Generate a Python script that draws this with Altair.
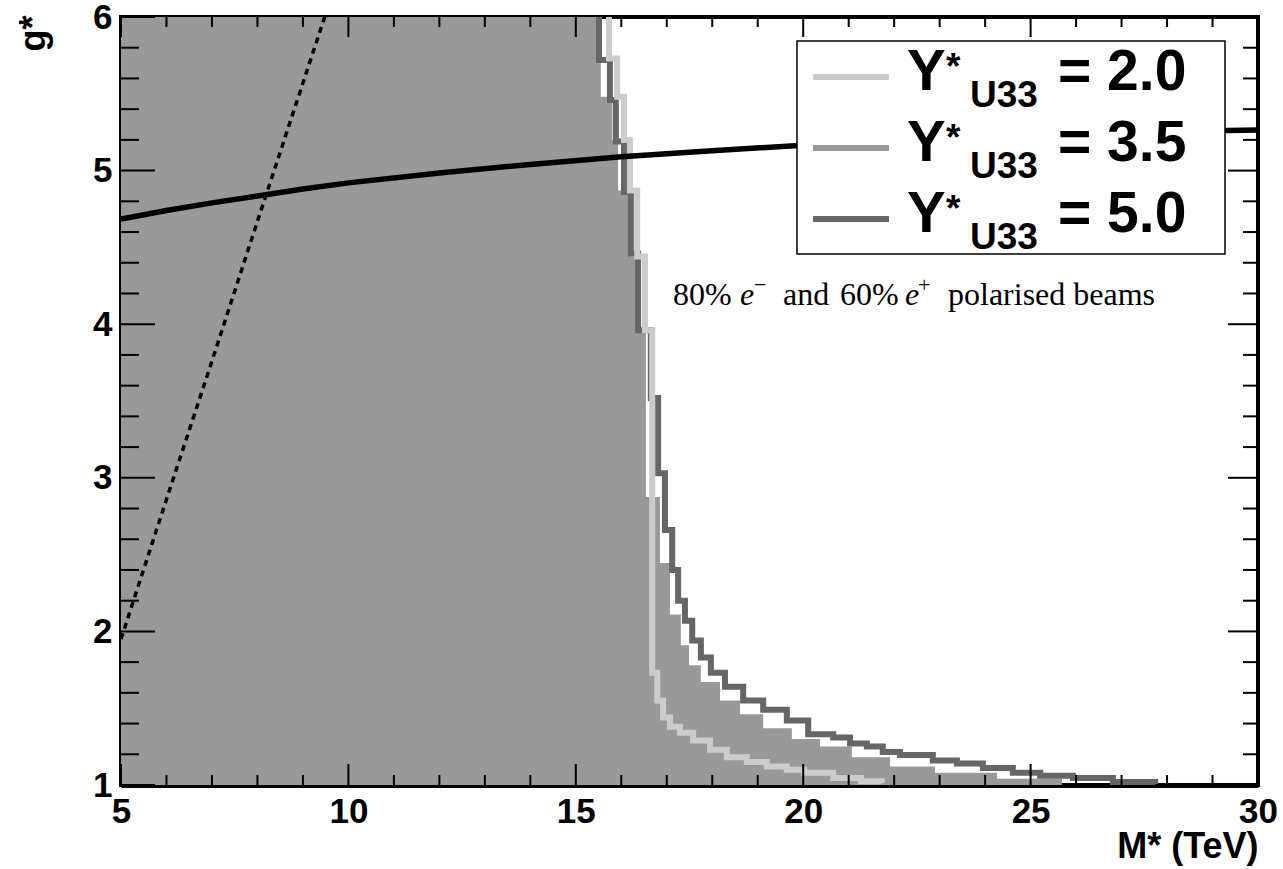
import altair as alt
import pandas as pd

# ---------------- data ----------------
x_major = [5, 10, 15, 20, 25, 30]
x_minor = [6, 7, 8, 9, 11, 12, 13, 14, 16, 17, 18, 19, 21, 22, 23, 24, 26, 27, 28, 29]
y_major = [1, 2, 3, 4, 5, 6]
y_minor = [1.2, 1.4, 1.6, 1.8, 2.2, 2.4, 2.6, 2.8, 3.2, 3.4, 3.6, 3.8,
           4.2, 4.4, 4.6, 4.8, 5.2, 5.4, 5.6, 5.8]

# Y*_U33 = 3.5 : filled excluded region (staircase boundary)
fill_M = [15.47, 15.55, 15.80, 15.93, 16.21, 16.39, 16.54, 16.85, 17.07, 17.31, 17.49,
          17.75, 18.17, 18.61, 19.12, 19.75, 20.37, 21.07, 21.91, 22.90, 24.26, 25.69, 25.69]
fill_g = [6.0, 5.73, 5.48, 5.20, 4.87, 4.44, 3.96, 2.875, 2.445, 2.11, 1.91,
          1.78, 1.67, 1.55, 1.46, 1.37, 1.30, 1.25, 1.18, 1.12, 1.08, 1.04, 1.0]
fill_left = 5.0

# Y*_U33 = 2.0 contour
light_M = [15.73, 15.91, 16.06, 16.19, 16.35, 16.52, 16.68, 16.79, 16.92, 17.07, 17.29,
           17.58, 17.95, 18.32, 18.76, 19.20, 19.64, 20.02, 20.66, 21.27, 21.73, 21.73]
light_g = [6.0, 5.73, 5.48, 5.20, 4.87, 4.44, 3.96, 1.73, 1.55, 1.44, 1.38,
           1.34, 1.29, 1.23, 1.18, 1.15, 1.12, 1.10, 1.08, 1.045, 1.025, 1.013]

# Y*_U33 = 5.0 contour
dark_M = [15.51, 15.75, 15.88, 16.06, 16.21, 16.37, 16.65, 16.81, 16.96, 17.12, 17.25,
          17.40, 17.56, 17.75, 17.97, 18.28, 18.68, 19.12, 19.64, 20.11, 20.66, 21.03,
          21.40, 21.75, 22.13, 22.85, 23.38, 23.95, 24.61, 25.21, 25.93, 26.81, 27.74, 27.74]
dark_g = [6.0, 5.72, 5.46, 5.19, 4.86, 4.46, 3.96, 3.52, 3.03, 2.66, 2.40,
          2.20, 2.07, 1.94, 1.83, 1.73, 1.64, 1.55, 1.49, 1.42, 1.33, 1.31,
          1.27, 1.25, 1.215, 1.195, 1.16, 1.14, 1.11, 1.08, 1.06, 1.045, 1.02, 1.007]

# thick black solid curve
solid_M = [5, 6, 7, 8, 9, 10, 12, 14, 16, 18, 20, 22, 24, 26, 28, 30]
solid_g = [4.685, 4.74, 4.79, 4.835, 4.88, 4.92, 4.985, 5.04, 5.09, 5.13, 5.165,
           5.195, 5.22, 5.24, 5.255, 5.265]

# dashed black curve
dash_M = [5.0, 6.0, 7.0, 8.0, 9.0, 9.6]
dash_g = [1.95, 2.86, 3.76, 4.67, 5.57, 6.11]

legend_values = ["2.0", "3.5", "5.0"]
legend_colors = ["#cccccc", "#999999", "#666666"]

annotation_segments = ["80%", "e", "\u2212", "and", "60%", "e", "+", "polarised beams"]

# ---------------- layout ----------------
W, H = 1137, 768
SANS = "Liberation Sans"
SERIF = "Liberation Serif"

xs = alt.Scale(domain=[5, 30], nice=False, zero=False)
ys = alt.Scale(domain=[1, 6], nice=False, zero=False)

xaxis = alt.Axis(values=x_major, format="d", title="M* (TeV)", ticks=False, tickSize=0,
                 grid=False, domain=True, domainColor="black", domainWidth=5,
                 labelFont=SANS, labelFontWeight="bold", labelFontSize=35, labelColor="black",
                 labelPadding=9, labelFlush=False, labelOverlap=False,
                 titleFont=SANS, titleFontWeight="bold", titleFontSize=36, titleColor="black",
                 titleAnchor="end", titleAlign="right", titleBaseline="alphabetic",
                 titleX=W, titleY=72)
yaxis = alt.Axis(values=y_major, format="d", title="g*", ticks=False, tickSize=0,
                 grid=False, domain=True, domainColor="black", domainWidth=5,
                 labelFont=SANS, labelFontWeight="bold", labelFontSize=35, labelColor="black",
                 labelPadding=9, labelFlush=False, labelOverlap=False,
                 titleFont=SANS, titleFontWeight="bold", titleFontSize=36, titleColor="black",
                 titleAngle=270, titleAlign="right", titleBaseline="alphabetic",
                 titleX=-77, titleY=-2)

X = alt.X("M:Q", scale=xs, axis=xaxis)
Y = alt.Y("g:Q", scale=ys, axis=yaxis)

fill_df = pd.DataFrame({"M": fill_M, "g": fill_g, "M0": [fill_left] * len(fill_M)})
light_df = pd.DataFrame({"M": light_M, "g": light_g})
dark_df = pd.DataFrame({"M": dark_M, "g": dark_g})
solid_df = pd.DataFrame({"M": solid_M, "g": solid_g})
dash_df = pd.DataFrame({"M": dash_M, "g": dash_g})

fill = alt.Chart(fill_df).mark_area(
    orient="horizontal", interpolate="step-before", color="#999999", opacity=1, clip=True
).encode(y=Y, x=X, x2=alt.X2("M0"))

dark = alt.Chart(dark_df).mark_line(
    interpolate="step-after", color="#666666", strokeWidth=6, clip=True
).encode(x=X, y=Y, order=alt.Order("g:Q", sort="ascending"))

light = alt.Chart(light_df).mark_line(
    interpolate="step-after", color="#cccccc", strokeWidth=6, clip=True
).encode(x=X, y=Y, order=alt.Order("g:Q", sort="ascending"))

dashed = alt.Chart(dash_df).mark_line(
    color="black", strokeWidth=3.5, strokeDash=[6, 5], clip=True
).encode(x=X, y=Y)

solid = alt.Chart(solid_df).mark_line(
    color="black", strokeWidth=5.5, clip=True
).encode(x=X, y=Y)

# inward ticks on all four sides
def xticks(vals, y0, y1):
    return alt.Chart(pd.DataFrame({"M": vals})).mark_rule(color="black", strokeWidth=2).encode(
        x=X, y=alt.value(y0), y2=alt.value(y1))

def yticks(vals, x0, x1):
    return alt.Chart(pd.DataFrame({"g": vals})).mark_rule(color="black", strokeWidth=2).encode(
        y=Y, x=alt.value(x0), x2=alt.value(x1))

ticks = [
    xticks(x_major, H, H - 21), xticks(x_minor, H, H - 10),
    xticks(x_major, 0, 20), xticks(x_minor, 0, 10),
    yticks(y_major, 0, 34), yticks(y_minor, 0, 18),
    yticks(y_major, W, W - 30), yticks(y_minor, W, W - 15),
]

# legend
legend_df = pd.DataFrame({"row": [0, 1, 2], "value": legend_values, "color": legend_colors})
legend_layers = [
    alt.Chart(legend_df).transform_filter(alt.datum.row == 0).mark_rect(
        fill="white", stroke="black", strokeWidth=1.5
    ).encode(x=alt.value(676), x2=alt.value(1104), y=alt.value(24), y2=alt.value(237))
]
for i in range(len(legend_values)):
    base = alt.Chart(legend_df).transform_filter(alt.datum.row == i)
    dy = 71 * i
    legend_layers.append(base.mark_rule(strokeWidth=6).encode(
        x=alt.value(692), x2=alt.value(768), y=alt.value(60 + dy),
        color=alt.Color("color:N", scale=None)))
    legend_layers.append(base.mark_text(
        text="Y", align="left", baseline="alphabetic", font=SANS, fontWeight="bold",
        fontSize=58, color="black").encode(x=alt.value(786), y=alt.value(73 + dy)))
    legend_layers.append(base.mark_text(
        text="*", align="left", baseline="alphabetic", font=SANS, fontWeight="bold",
        fontSize=37, color="black").encode(x=alt.value(825), y=alt.value(62 + dy)))
    legend_layers.append(base.mark_text(
        text="U33", align="left", baseline="alphabetic", font=SANS, fontWeight="bold",
        fontSize=37, color="black").encode(x=alt.value(849), y=alt.value(90 + dy)))
    legend_layers.append(base.transform_calculate(lab="'= ' + datum.value").mark_text(
        align="left", baseline="alphabetic", font=SANS, fontWeight="bold",
        fontSize=57, color="black").encode(x=alt.value(937), y=alt.value(73 + dy), text="lab:N"))

# annotation text (serif, with italic e and superscripts)
seg_style = [
    (552, 288, 32, "normal", "alphabetic"),
    (619, 288, 32, "italic", "alphabetic"),
    (633, 268, 22, "normal", "middle"),
    (662, 288, 32, "normal", "alphabetic"),
    (719, 288, 32, "normal", "alphabetic"),
    (784, 288, 32, "italic", "alphabetic"),
    (797, 268, 22, "normal", "middle"),
    (827, 288, 32, "normal", "alphabetic"),
]
annot_layers = []
for seg, (px, py, fs, style, bl) in zip(annotation_segments, seg_style):
    annot_layers.append(alt.Chart(pd.DataFrame({"t": [seg]})).mark_text(
        align="left", baseline=bl, font=SERIF, fontSize=fs, fontStyle=style, color="black"
    ).encode(x=alt.value(px), y=alt.value(py), text="t:N"))

chart = alt.layer(
    fill, dark, light, dashed, solid, *ticks, *legend_layers, *annot_layers
).properties(
    width=W, height=H,
    autosize=alt.AutoSizeParams(type="none"),
    padding={"left": 121, "top": 17, "right": 25, "bottom": 84},
    background="white",
).configure_view(stroke="black", strokeWidth=4)

chart.save("out.html", embed_options={"renderer": "svg", "actions": False})
